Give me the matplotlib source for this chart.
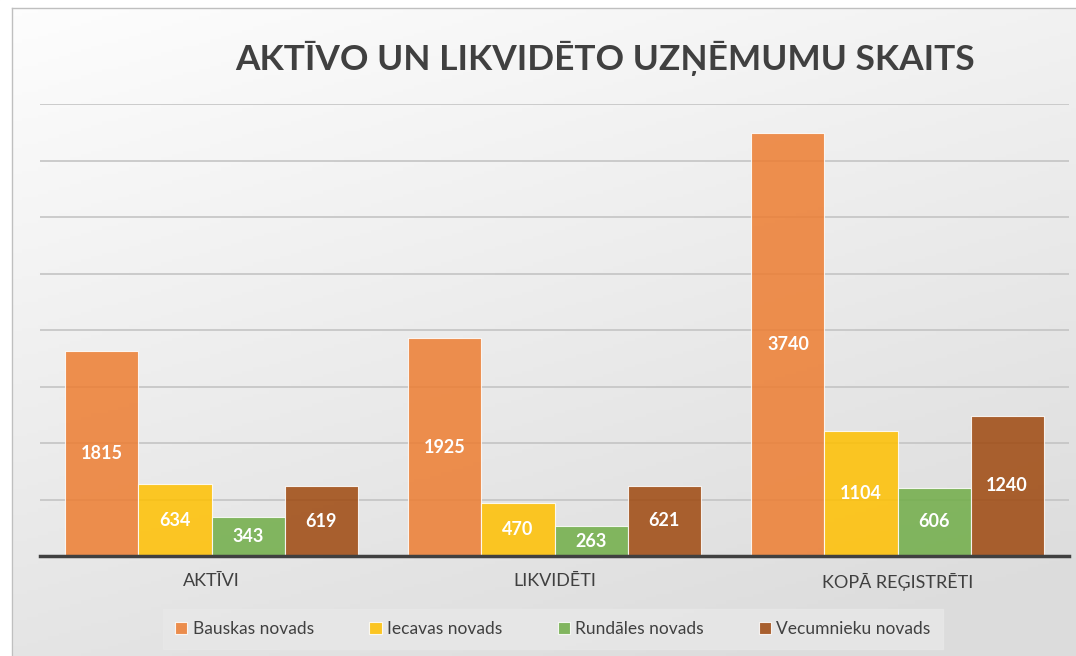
import numpy as np
import matplotlib.pyplot as plt
from matplotlib.patches import Rectangle

categories = ["AKTĪVI", "LIKVIDĒTI", "KOPĀ REĢISTRĒTI"]
series_names = ["Bauskas novads", "Iecavas novads", "Rundāles novads", "Vecumnieku novads"]
bauska = [1815, 1925, 3740]
iecava = [634, 470, 1104]
rundale = [343, 263, 606]
vecumnieki = [619, 621, 1240]
colors = ["#ED7D31", "#FFC000", "#70AD47", "#9E480E"]

plt.rcParams['font.family'] = ['Lato', 'DejaVu Sans']

fig = plt.figure(figsize=(10.76, 6.56), dpi=100)

# background with soft gradient
bg = fig.add_axes([0, 0, 1, 1], zorder=-10)
bg.set_axis_off()
yy, xx = np.mgrid[0:1:200j, 0:1:200j]
grad = 0.995 - 0.13 * np.clip(0.35 * xx + 0.75 * yy, 0, 1)
bg.imshow(np.dstack([grad, grad, grad]), extent=[0, 1, 0, 1], aspect='auto', origin='upper')
bg.add_patch(Rectangle((0, 0), 12 / 1076, 1, color='white'))
bg.add_patch(Rectangle((0, 1 - 8 / 656), 1, 8 / 656, color='white'))
bg.plot([12 / 1076, 12 / 1076], [0, 1 - 8 / 656], color='#bfbfbf', lw=1)
bg.plot([12 / 1076, 1], [1 - 8 / 656, 1 - 8 / 656], color='#bfbfbf', lw=1)
bg.set_xlim(0, 1)
bg.set_ylim(0, 1)

ax = fig.add_axes([40 / 1076, 1 - 556 / 656, 1029 / 1076, 452 / 656])
ax.patch.set_alpha(0)

x = np.arange(len(categories))
width = 0.213
all_series = [bauska, iecava, rundale, vecumnieki]
for i, (vals, name, col) in enumerate(zip(all_series, series_names, colors)):
    pos = x + (i - 1.5) * width
    bars = ax.bar(pos, vals, width, color=col, alpha=0.85, label=name,
                  edgecolor='white', linewidth=0.8, zorder=3)
    for b, v in zip(bars, vals):
        ax.text(b.get_x() + b.get_width() / 2, v / 2, str(v), ha='center', va='center',
                color='white', fontsize=13, fontweight='bold', zorder=4)

ax.set_xlim(-0.5, 2.5)
ax.set_ylim(0, 4000)
ax.set_yticks(np.arange(500, 4001, 500))
ax.yaxis.grid(True, color='#c4c4c4', lw=1.2, zorder=1)
ax.tick_params(axis='y', left=False, labelleft=False)
ax.tick_params(axis='x', bottom=False, pad=9)
ax.set_xticks(x)
ax.set_xticklabels(categories, fontsize=13, color='#404040')
for s in ['top', 'right', 'left']:
    ax.spines[s].set_visible(False)
ax.spines['bottom'].set_color('#404040')
ax.spines['bottom'].set_linewidth(2.5)
ax.spines['bottom'].set_zorder(5)

fig.text(605 / 1076, 1 - 58 / 656, "AKTĪVO UN LIKVIDĒTO UZŅĒMUMU SKAITS",
         ha='center', va='center', fontsize=25.4, fontweight='bold', color='#404040')

leg = fig.legend(loc='center', bbox_to_anchor=(553 / 1076, 1 - 629 / 656), ncol=4,
                 fontsize=12.5, frameon=True, fancybox=False, handlelength=0.7,
                 handleheight=0.7, handletextpad=0.3, columnspacing=3.2,
                 borderpad=0.7)
leg.get_frame().set_facecolor('#e8e8e8')
leg.get_frame().set_edgecolor('#e8e8e8')
for t in leg.get_texts():
    t.set_color('#404040')

fig.savefig("out.png", dpi=100)
